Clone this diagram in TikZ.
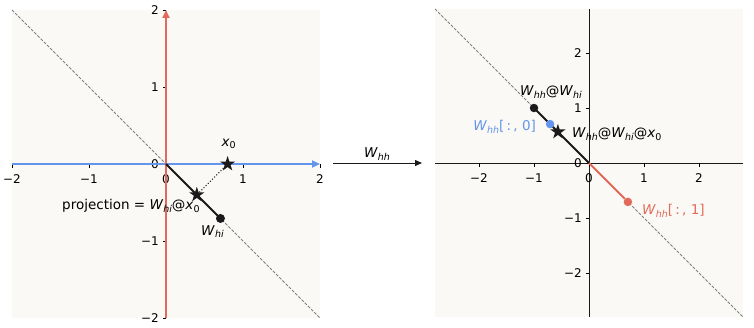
\documentclass[tikz,border=0pt]{standalone}
\usepackage{fontspec}
\setmainfont{DejaVu Sans}
\usetikzlibrary{shapes.geometric,arrows.meta}
\definecolor{bgc}{RGB}{250,249,246}
\definecolor{myblue}{RGB}{100,149,237}
\definecolor{myred}{RGB}{226,106,90}
\definecolor{ink}{RGB}{26,26,26}
\newcommand\subtx[1]{\raisebox{-0.35ex}{\fontsize{9.5}{10}\selectfont #1}}
\newcommand\iW[1]{\textit{W}\subtx{\itshape #1}}
\newcommand\ixo{\textit{x}\subtx{0}}
\tikzset{
  dotnode/.style={circle,fill=ink,inner sep=0pt,minimum size=9pt},
  starnode/.style={star,star points=5,star point ratio=2.618,fill=ink,inner sep=0pt,minimum size=16pt},
  guide/.style={gray,line width=0.8pt,dash pattern=on 3pt off 1.5pt},
  vecline/.style={ink,line width=1.8pt},
  ticklab/.style={inner sep=0pt,font=\fontsize{12}{14}\selectfont},
  lab/.style={inner sep=0pt,font=\fontsize{13.5}{16}\selectfont},
  axarrow/.style={line width=2pt,-{Triangle[length=8pt,width=7pt]}},
}
\begin{document}
\begin{tikzpicture}[x=1pt,y=1pt]
\useasboundingbox (0,0) rectangle (754,327);
% ---------------- left panel ----------------
\begin{scope}[shift={(166pt,163pt)},x=77pt,y=77pt]
  \fill[bgc] (-2,-2) rectangle (2,2);
  \coordinate (LO) at (0,0);
  \coordinate (LdA) at (-2,2);
  \coordinate (LdB) at (2,-2);
  \coordinate (LxA) at (-2,0);
  \coordinate (LxB) at (2,0);
  \coordinate (LyA) at (0,-2);
  \coordinate (LyB) at (0,2);
  \draw[guide] (LdA) -- (LdB);
  \foreach \v/\s in {-2/−2,-1/−1,0/0,1/1,2/2}{
    \draw[line width=0.8pt] (\v,0) -- ++(0,-3.5pt);
    \node[ticklab,name=Lxt\v] at ([yshift=-15pt]\v,0) {\s};
    \draw[line width=0.8pt] (0,\v) -- ++(-3.5pt,0);
    \node[ticklab,anchor=east,name=Lyt\v] at ([xshift=-7pt]0,\v) {\s};
  }
  \draw[axarrow,myblue] (LxA) -- (LxB);
  \draw[axarrow,myred] (LyA) -- (LyB);
  \node[dotnode] (Whi) at (0.7071,-0.7071) {};
  \draw[vecline] (LO) -- (Whi.center);
  \node[starnode] (x0) at (0.8,0) {};
  \node[starnode] (proj) at (0.4,-0.4) {};
  \draw[ink,line width=1pt,dotted] (x0) -- (proj);
  \node[lab] (lx0) at ([xshift=1pt,yshift=20pt]x0.center) {\ixo};
  \node[lab] (lWhi) at ([xshift=-8pt,yshift=-13pt]Whi.center) {\iW{hi}};
  \node[lab,anchor=east] (lproj) at ([xshift=3pt,yshift=-11pt]proj.center) {projection = \iW{hi}@\ixo};
\end{scope}
% ---------------- middle arrow ----------------
\coordinate (mA) at (333,164);
\coordinate (mB) at (422,164);
\draw[ink,line width=1pt,-{Triangle[length=7pt,width=6pt]}] (mA) -- (mB);
\node[lab] (lmid) at (377,173) {\iW{hh}};
% ---------------- right panel ----------------
\begin{scope}[shift={(589pt,164pt)},x=55pt,y=55pt]
  \fill[bgc] (-2.8,-2.8) rectangle (2.8,2.8);
  \coordinate (RO) at (0,0);
  \coordinate (RdA) at (-2.8,2.8);
  \coordinate (RdB) at (2.8,-2.8);
  \coordinate (RxA) at (-2.8,0);
  \coordinate (RxB) at (2.8,0);
  \coordinate (RyA) at (0,-2.8);
  \coordinate (RyB) at (0,2.8);
  \draw[guide] (RdA) -- (RdB);
  \draw[ink,line width=1pt] (RxA) -- (RxB);
  \draw[ink,line width=1pt] (RyA) -- (RyB);
  \foreach \v/\s in {-2/−2,-1/−1,0/0,1/1,2/2}{
    \draw[line width=0.8pt] (\v,0) -- ++(0,-3.5pt);
    \node[ticklab,name=Rxt\v] at ([yshift=-15pt]\v,0) {\s};
    \draw[line width=0.8pt] (0,\v) -- ++(-3.5pt,0);
    \node[ticklab,anchor=east,name=Ryt\v] at ([xshift=-7pt]0,\v) {\s};
  }
  \node[dotnode,minimum size=8.5pt] (Wprod) at (-1,1) {};
  \draw[vecline] (RO) -- (Wprod.center);
  \node[dotnode,minimum size=8.5pt,fill=myblue] (Wc0) at (-0.7071,0.7071) {};
  \node[dotnode,minimum size=8.5pt,fill=myred] (Wc1) at (0.7071,-0.7071) {};
  \draw[myred,line width=1.8pt] (RO) -- (Wc1);
  \node[starnode] (Rst) at (-0.5657,0.5657) {};
  \node[lab] (lWprod) at ([xshift=17pt,yshift=16pt]Wprod.center) {\iW{hh}@\iW{hi}};
  \node[lab,anchor=east,text=myblue] (lWc0) at ([xshift=-14pt,yshift=-3pt]Wc0.center) {\iW{hh}[\,:\,, 0]};
  \node[lab,anchor=west] (lRst) at ([xshift=14pt,yshift=-2pt]Rst.center) {\iW{hh}@\iW{hi}@\ixo};
  \node[lab,anchor=west,text=myred] (lWc1) at ([xshift=14pt,yshift=-9pt]Wc1.center) {\iW{hh}[\,:\,, 1]};
\end{scope}
\end{tikzpicture}
\end{document}
